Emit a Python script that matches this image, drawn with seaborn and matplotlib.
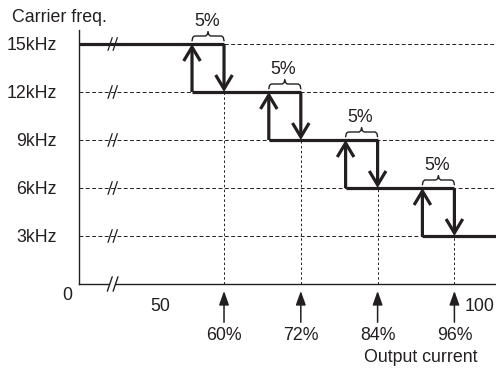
import matplotlib
matplotlib.use("Agg")
import matplotlib.pyplot as plt
import numpy as np
import pandas as pd
import seaborn as sns

# carrier frequency steps (kHz) and switching points (% output current)
levels = [15, 12, 9, 6, 3]
level_labels = ["15kHz", "12kHz", "9kHz", "6kHz", "3kHz"]
down_at = [60, 72, 84, 96]
up_at = [55, 67, 79, 91]
down_labels = ["60%", "72%", "84%", "96%"]
hyst_label = "5%"
xticks = [50, 60, 70, 80, 90, 100]
xtick_labels = ["50", "", "", "", "", "100"]
x_break = 42.6

INK = "#231f20"
FS = 12.8
XMIN, XMAX = 37.34, 102.5
YMIN, YMAX = 0, 15.875


def main():
    sns.set_style("white")
    plt.rcParams["font.family"] = ["Liberation Sans", "DejaVu Sans"]
    plt.rcParams["font.size"] = FS

    fig = plt.figure(figsize=(4.96, 3.69), dpi=100)
    ax = fig.add_axes([79 / 496, 85 / 369, 417 / 496, 254 / 369])
    ax.set_xlim(XMIN, XMAX)
    ax.set_ylim(YMIN, YMAX)

    # dashed horizontal grid at every level, dotted verticals at switch points
    for lv in levels:
        ax.axhline(lv, color=INK, lw=0.7, ls=(0, (4, 2.5)), zorder=1)
    ax.vlines(down_at, 0, levels[1:], color=INK, lw=0.7, ls=(0, (2.5, 2.5)), zorder=1)

    # thick horizontal segments of the step curve
    rows = []
    for i, lv in enumerate(levels):
        x0 = XMIN if i == 0 else up_at[i - 1]
        x1 = down_at[i] if i < len(down_at) else XMAX
        rows.append({"seg": i, "x": x0, "y": lv})
        rows.append({"seg": i, "x": x1, "y": lv})
    df = pd.DataFrame(rows)
    sns.lineplot(data=df, x="x", y="y", units="seg", estimator=None, sort=False,
                 color=INK, lw=2.3, ax=ax, zorder=3, solid_capstyle="butt")

    # vertical arrows (down when current rises, up when it falls)
    head = dict(arrowstyle="->,head_length=0.5,head_width=0.3", lw=2.3,
                color=INK, shrinkA=0, shrinkB=0, mutation_scale=20,
                capstyle="butt", joinstyle="miter")
    for i in range(len(down_at)):
        ax.annotate("", xy=(down_at[i], levels[i + 1]), xytext=(down_at[i], levels[i]),
                    arrowprops=head, zorder=4)
        ax.annotate("", xy=(up_at[i], levels[i]), xytext=(up_at[i], levels[i + 1]),
                    arrowprops=head, zorder=4)

    # braces with 5% labels
    for i in range(len(down_at)):
        x0, x1, y = up_at[i], down_at[i], levels[i]
        xm = (x0 + x1) / 2
        bx = [x0, x0 + 0.12, x0 + 0.4, xm - 0.4, xm - 0.12, xm, xm + 0.12, xm + 0.4,
              x1 - 0.4, x1 - 0.12, x1]
        by = [y + 0.2, y + 0.42, y + 0.5, y + 0.5, y + 0.58, y + 0.78, y + 0.58, y + 0.5,
              y + 0.5, y + 0.42, y + 0.2]
        ax.plot(bx, by, color=INK, lw=1.0, clip_on=False, solid_joinstyle="round")
        ax.text(xm - 0.2, y + 1.4, hyst_label, ha="center", va="center",
                color=INK, fontsize=FS, clip_on=False)

    # break marks
    for lv in levels:
        for dx in (-0.4, 0.4):
            ax.plot([x_break + dx - 0.33, x_break + dx + 0.33], [lv - 0.4, lv + 0.4],
                    color=INK, lw=0.9, zorder=5, clip_on=False)
    ax.plot([x_break - 0.4, x_break + 0.4], [0, 0], color="white", lw=3,
            zorder=6, clip_on=False, solid_capstyle="butt")
    for dx in (-0.45, 0.45):
        ax.plot([x_break + dx - 0.38, x_break + dx + 0.38], [-0.45, 0.45],
                color=INK, lw=1.0, zorder=7, clip_on=False)

    # arrows under the axis marking the switch points
    for x, lab in zip(down_at, down_labels):
        ax.annotate(lab, xy=(x, 0), xytext=(0, -37), textcoords="offset points",
                    ha="center", va="center", color=INK, fontsize=FS,
                    arrowprops=dict(arrowstyle="-|>,head_length=0.42,head_width=0.15",
                                    lw=1.1, color=INK, shrinkA=1, shrinkB=5,
                                    mutation_scale=20))

    sns.despine(ax=ax)
    for s in ("left", "bottom"):
        ax.spines[s].set_color(INK)
        ax.spines[s].set_linewidth(1.0)

    ax.set_xticks(xticks)
    ax.set_xticklabels(xtick_labels)
    ax.set_yticks(levels)
    ax.set_yticklabels(level_labels)
    ax.tick_params(axis="x", direction="in", length=6, width=1, color=INK,
                   labelcolor=INK, labelsize=FS, pad=10)
    ax.tick_params(axis="y", length=0, labelcolor=INK, labelsize=FS, pad=16)
    ax.set_xlabel("")
    ax.set_ylabel("")

    fig.text(59 / 496, 1 - 18 / 369, "Carrier freq.", ha="center", va="center",
             color=INK, fontsize=FS)
    fig.text(67 / 496, 1 - 295 / 369, "0", ha="center", va="center",
             color=INK, fontsize=FS)
    fig.text(421 / 496, 1 - 357 / 369, "Output current", ha="center", va="center",
             color=INK, fontsize=FS)

    fig.savefig("out.png", dpi=100)


if __name__ == "__main__":
    main()
